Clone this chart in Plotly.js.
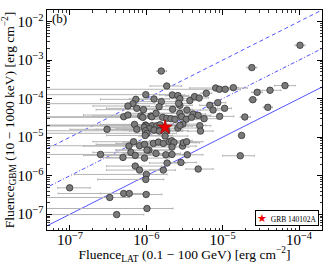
<!DOCTYPE html>
<html><head><meta charset="utf-8">
<script src="https://cdn.plot.ly/plotly-3.0.1.min.js"></script>
<style>html,body{margin:0;padding:0;background:#fff}#plot{width:330px;height:264px}</style>
</head><body><div id="plot"></div>
<script>
// LAT fluence (erg cm^-2), GBM fluence, LAT lower/upper bounds
const latFluence = [1.03e-4,1.57e-6,2.41e-5,1.85e-6,6.55e-5,8.1e-6,9.06e-6,1.08e-5,1.38e-5,6.1e-6,2.83e-5,4.17e-5,2.48e-5,3.9e-5,1.77e-5,1.7e-5,4.78e-6,1.95e-5,
9.84e-7,2.19e-6,2.59e-6,2.75e-6,3.72e-6,4.28e-6,4.92e-6,7.3e-7,1.26e-6,1.57e-6,6.67e-7,5.74e-7,7.5e-7,9.18e-7,1.47e-6,2.21e-6,2.75e-6,2.65e-6,3.4e-6,4.11e-6,4.78e-6,5.71e-6,6.78e-6,7.48e-6,8.61e-6,1.06e-5,9.14e-6,
5.05e-7,5.74e-7,8.47e-7,8.99e-7,1.15e-6,1.18e-6,1.34e-6,1.64e-6,1.85e-6,2.1e-6,2.37e-6,2.75e-6,2.9e-6,3.33e-6,3.91e-6,
9.75e-7,1.19e-6,1.37e-6,1.51e-6,7.0e-7,9.95e-7,9.37e-7,1.1e-6,7.5e-7,9.75e-7,1.26e-6,1.48e-6,1.85e-6,1.02e-6,9.66e-7,3.06e-7,1.76e-6,2.59e-6,3.01e-6,2.75e-6,5.02e-6,5.12e-6,
2.98e-6,3.44e-6,2.84e-6,1.8e-6,1.34e-6,1.08e-6,6.8e-7,5.92e-7,8.15e-7,9.46e-7,1.24e-6,1.44e-6,1.67e-6,2.0e-6,2.15e-6,2.3e-6,2.17e-6,3.05e-6,3.37e-6,2.17e-6,
2.51e-7,4.94e-7,6.28e-7,7.16e-7,9.46e-7,1.02e-6,7.16e-7,8.15e-7,1.0e-6,9.84e-7,1.87e-6,1.67e-6,
9.9e-8,3.32e-7,5.05e-7,5.98e-7,9.95e-7,1.02e-6,4.09e-7];
const gbmFluence = [2.43e-3,5.2e-4,6.4e-4,2.13e-4,2.18e-4,1.89e-4,1.75e-4,1.75e-4,1.93e-4,1.38e-4,1.46e-4,1.65e-4,9.4e-5,5.96e-5,1.11e-5,3.3e-6,1.49e-6,3.34e-5,
1.27e-4,1.25e-4,1.2e-4,1.0e-4,8.9e-5,1.13e-4,1.04e-4,9.6e-5,9.8e-5,8.36e-5,7.41e-5,6.45e-5,5.61e-5,5.18e-5,6.2e-5,5.28e-5,6.71e-5,7.56e-5,5.07e-5,3.99e-5,3.69e-5,3.02e-5,6.71e-5,5.07e-5,7.87e-5,5.61e-5,3.47e-5,
3.4e-5,3.76e-5,3.54e-5,3.27e-5,3.54e-5,3.4e-5,4.16e-5,3.27e-5,3.08e-5,3.02e-5,2.9e-5,4.16e-5,3.4e-5,2.9e-5,3.27e-5,
2.07e-5,1.99e-5,1.99e-5,2.11e-5,2.15e-5,1.95e-5,1.8e-5,1.66e-5,1.6e-5,1.47e-5,1.53e-5,1.44e-5,1.47e-5,1.26e-5,1.11e-5,1.6e-5,1.07e-5,1.73e-5,2.19e-5,2.03e-5,1.99e-5,1.44e-5,
5.88e-6,3.5e-6,2.21e-6,3.5e-6,3.79e-6,4.63e-6,7.62e-6,5.88e-6,6.0e-6,6.5e-6,6.9e-6,7.47e-6,6.9e-6,7.62e-6,8.09e-6,7.32e-6,5.54e-6,7.18e-6,7.62e-6,3.57e-6,
3.57e-6,2.98e-6,4.03e-6,3.37e-6,2.87e-6,4.63e-6,1.78e-6,1.4e-6,1.08e-6,8.0e-7,2.13e-6,1.4e-6,
4.85e-7,2.72e-7,3.46e-7,3.46e-7,3.26e-7,1.41e-7,9.8e-8];
const latLow = [8.9e-5,1.37e-6,2.07e-5,1.12e-6,4.75e-5,3.7e-6,3e-8,9.5e-6,1.2e-5,5.2e-6,2.4e-5,3.0e-5,2.2e-5,3.4e-5,1.65e-5,1.0e-5,3.3e-6,1.7e-5,
3e-8,1.5e-6,1.8e-6,1.6e-6,2.4e-6,3e-6,3.8e-6,2.5e-7,6e-7,8e-7,3e-8,2e-7,3e-7,2.2e-7,7e-7,1.2e-6,1.8e-6,1.7e-6,2.2e-6,2.8e-6,3e-6,3.8e-6,5e-6,5.5e-6,6.5e-6,8.5e-6,6e-6,
3e-8,1.5e-7,2e-7,3e-8,5e-7,4e-7,6e-7,8e-7,9e-7,1.1e-6,1.2e-6,1.5e-6,1.6e-6,2e-6,2.5e-6,
3e-8,3e-8,5e-7,6e-7,2.5e-7,3e-8,3e-7,4e-7,2.2e-7,3e-8,5e-7,6e-7,9e-7,3e-8,3e-7,1e-7,8e-7,1.5e-6,1.8e-6,1.3e-6,3.5e-6,3.5e-6,
2e-6,2.2e-6,1.9e-6,1e-6,5e-7,4e-7,2e-7,1.5e-7,3e-8,2.2e-7,4e-7,5e-7,7e-7,1e-6,1.1e-6,1.2e-6,1.2e-6,2e-6,2.2e-6,1.4e-6,
3e-8,2.5e-7,2e-7,1.5e-7,3e-7,4e-7,3e-7,3e-7,1.14e-7,2.3e-7,1.1e-6,1.1e-6,
6.9e-8,3e-8,7e-8,2.5e-7,6e-7,3e-8,3e-8];
const latHigh = [1.2e-4,1.84e-6,2.8e-5,2.9e-6,8.9e-5,2.1e-5,1.7e-5,1.25e-5,1.6e-5,7.2e-6,3.3e-5,5.8e-5,2.8e-5,4.5e-5,1.9e-5,2.6e-5,7.5e-6,2.3e-5,
2.26e-6,3.2e-6,3.6e-6,4.5e-6,5e-6,6e-6,6.5e-6,1.6e-6,2.0e-6,2.8e-6,1.3e-6,1.1e-6,1.5e-6,2.2e-6,2.5e-6,4.0e-6,4.0e-6,3.8e-6,5.2e-6,6e-6,7e-6,8.5e-6,9e-6,1.0e-5,1.1e-5,1.3e-5,1.4e-5,
1.3e-6,1.2e-6,1.7e-6,2e-6,2.5e-6,2.2e-6,2.8e-6,3.2e-6,3.5e-6,3.8e-6,4.5e-6,4.5e-6,5e-6,5.5e-6,6e-6,
2.5e-6,3e-6,3.5e-6,3e-6,1.5e-6,4e-6,2e-6,2.5e-6,1.8e-6,2.6e-6,3e-6,3e-6,3.5e-6,2.5e-6,2.2e-6,8e-7,3.5e-6,4.5e-6,5e-6,6e-6,7e-6,7.5e-6,
4.5e-6,5.5e-6,4.5e-6,3e-6,2.8e-6,2.2e-6,1.4e-6,1.3e-6,2e-6,2.2e-6,2.5e-6,3e-6,3.5e-6,3.8e-6,4e-6,4.5e-6,3.6e-6,5e-6,5.5e-6,3.2e-6,
1.4e-6,9e-7,1.2e-6,2e-6,2e-6,2e-6,1.6e-6,1.8e-6,1.87e-6,1.69e-6,3.3e-6,2.4e-6,
1.84e-7,6e-7,1.1e-6,1.0e-6,1.6e-6,2.23e-6,9.27e-7];
// GRB 140102A
const grbName = ['GRB 140102A'];
const grbLat = [1.76e-6];
const grbGbm = [1.8e-5];
// reference lines: GBM = ratio x LAT
const lineLat = [5e-8, 2e-4];
const lineRatios = [1, 10, 100];
const lineDash = ['solid', '1px,2px,4px,2px', '4px,3px'];

const errPlus = latFluence.map((v,i)=>latHigh[i]-v);
const errMinus = latFluence.map((v,i)=>v-latLow[i]);

const FONT = 'Liberation Serif, DejaVu Serif, serif';
const traces = [];
lineRatios.forEach((r,k)=>{
  traces.push({x: lineLat, y: lineLat.map(v=>v*r), mode:'lines', type:'scatter',
    line:{color:'rgba(40,40,255,0.8)', width:1, dash:lineDash[k]}, showlegend:false, hoverinfo:'skip'});
});
traces.push({x: latFluence, y: gbmFluence, mode:'markers', type:'scatter', showlegend:false,
  marker:{size:6.5, color:'#7a7a7a', line:{color:'#333', width:0.8}},
  error_x:{type:'data', symmetric:false, array:errPlus, arrayminus:errMinus, color:'#b4b4b4', thickness:1, width:1}});
traces.push({x: grbLat, y: grbGbm, name: grbName[0], mode:'markers', type:'scatter', showlegend:false,
  marker:{symbol:'star', size:11, color:'#ee0000', line:{color:'#990000', width:0.6}}});

const axisCommon = {type:'log', showgrid:false, zeroline:false, showline:true, linecolor:'#000', linewidth:1,
  mirror:'allticks', ticks:'inside', ticklen:5, tickcolor:'#000', tickwidth:1, dtick:1, exponentformat:'power',
  tickfont:{family:FONT, size:12, color:'#000'},
  minor:{ticks:'inside', ticklen:2.5, tickcolor:'#000', tickwidth:0.8, showgrid:false}};

const layout = {
  width:330, height:264, margin:{l:47, r:8, t:10, b:34}, paper_bgcolor:'#fff', plot_bgcolor:'#fff',
  font:{family:FONT, color:'#000'}, showlegend:false,
  xaxis: Object.assign({}, axisCommon, {range:[Math.log10(5e-8), Math.log10(2e-4)], ticklabelstandoff:-3,
    title:{text:'Fluence<sub>LAT</sub> (0.1 − 100 GeV) [erg cm<sup>−2</sup>]', font:{family:FONT, size:13.5, color:'#000'}, standoff:0}}),
  yaxis: Object.assign({}, axisCommon, {range:[Math.log10(3.9e-8), Math.log10(2e-2)],
    title:{text:'Fluence<sub>GBM</sub> (10 − 1000 keV) [erg cm<sup>−2</sup>]', font:{family:FONT, size:13.5, color:'#000'}, standoff:2}}),
  annotations:[
    {text:'(b)', xref:'paper', yref:'paper', x:0.01, y:1.005, xanchor:'left', yanchor:'top', showarrow:false,
     font:{family:FONT, size:13, color:'#000'}},
    {text:'<span style="color:#ee0000;font-size:11px">★</span>  ' + grbName[0], xref:'paper', yref:'paper', x:0.99, y:0.018,
     xanchor:'right', yanchor:'bottom', showarrow:false, bordercolor:'#000', borderwidth:1, borderpad:1, bgcolor:'#fff',
     font:{family:FONT, size:7.5, color:'#000'}}
  ]
};
Plotly.newPlot('plot', traces, layout, {staticPlot:true, displayModeBar:false});
</script></body></html>
